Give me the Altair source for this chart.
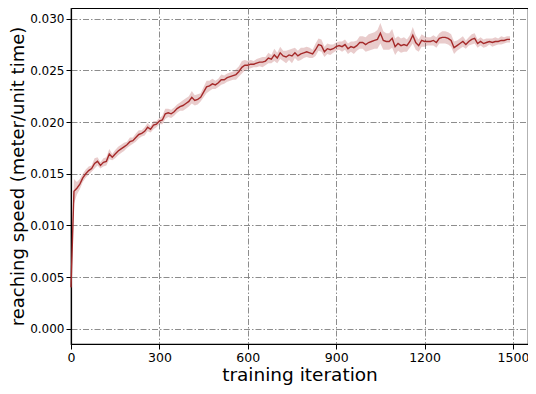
import altair as alt
import pandas as pd

iterations = list(range(0, 1500, 10))

speed_mean = [
    0.0040, 0.0133, 0.0136, 0.0140, 0.0146, 0.0150, 0.0153, 0.0155, 0.0160, 0.0162,
    0.0158, 0.0161, 0.0162, 0.0169, 0.0166, 0.0169, 0.0172, 0.0174, 0.0176, 0.0178,
    0.0181, 0.0182, 0.0185, 0.0188, 0.0189, 0.0191, 0.0195, 0.0193, 0.0197, 0.0198,
    0.0201, 0.0202, 0.0208, 0.0209, 0.0208, 0.0210, 0.0213, 0.0215, 0.0216, 0.0218,
    0.0220, 0.0224, 0.0221, 0.0222, 0.0224, 0.0229, 0.0234, 0.0235, 0.0237, 0.0236,
    0.0238, 0.0241, 0.0241, 0.0243, 0.0244, 0.0245, 0.0246, 0.0249, 0.0253, 0.0255,
    0.0255, 0.0256, 0.0256, 0.0257, 0.0258, 0.0258, 0.0259, 0.0262, 0.0261, 0.0265,
    0.0262, 0.0267, 0.0264, 0.0263, 0.0265, 0.0264, 0.0267, 0.0264, 0.0266, 0.0267,
    0.0268, 0.0267, 0.0266, 0.0270, 0.0275, 0.0274, 0.0268, 0.0271, 0.0270, 0.0271,
    0.0273, 0.0274, 0.0273, 0.0275, 0.0271, 0.0273, 0.0272, 0.0274, 0.0277, 0.0277,
    0.0275, 0.0277, 0.0278, 0.0279, 0.0280, 0.0286, 0.0279, 0.0278, 0.0278, 0.0281,
    0.0273, 0.0276, 0.0274, 0.0275, 0.0274, 0.0278, 0.0284, 0.0277, 0.0274, 0.0279,
    0.0278, 0.0278, 0.0278, 0.0279, 0.0277, 0.0281, 0.0282, 0.0282, 0.0281, 0.0279,
    0.0272, 0.0274, 0.0276, 0.0278, 0.0275, 0.0278, 0.0280, 0.0281, 0.0276, 0.0278,
    0.0276, 0.0277, 0.0278, 0.0277, 0.0278, 0.0278, 0.0279, 0.0279, 0.0280, 0.0280,
]

speed_spread = [
    0.0010, 0.0012, 0.0006, 0.0005, 0.0004, 0.0004, 0.0004, 0.0003, 0.0005, 0.0004,
    0.0003, 0.0004, 0.0004, 0.0005, 0.0003, 0.0004, 0.0004, 0.0004, 0.0004, 0.0003,
    0.0004, 0.0003, 0.0004, 0.0004, 0.0003, 0.0004, 0.0004, 0.0003, 0.0004, 0.0003,
    0.0003, 0.0004, 0.0005, 0.0004, 0.0004, 0.0004, 0.0004, 0.0004, 0.0005, 0.0005,
    0.0005, 0.0006, 0.0005, 0.0005, 0.0004, 0.0005, 0.0006, 0.0005, 0.0005, 0.0004,
    0.0004, 0.0005, 0.0004, 0.0004, 0.0004, 0.0004, 0.0005, 0.0005, 0.0006, 0.0005,
    0.0004, 0.0004, 0.0003, 0.0004, 0.0004, 0.0005, 0.0004, 0.0005, 0.0004, 0.0006,
    0.0005, 0.0006, 0.0005, 0.0006, 0.0005, 0.0007, 0.0005, 0.0005, 0.0006, 0.0005,
    0.0005, 0.0005, 0.0004, 0.0006, 0.0006, 0.0006, 0.0005, 0.0005, 0.0005, 0.0004,
    0.0004, 0.0004, 0.0005, 0.0005, 0.0005, 0.0005, 0.0006, 0.0005, 0.0006, 0.0006,
    0.0007, 0.0008, 0.0008, 0.0008, 0.0009, 0.0010, 0.0009, 0.0008, 0.0008, 0.0009,
    0.0008, 0.0007, 0.0007, 0.0007, 0.0006, 0.0006, 0.0008, 0.0007, 0.0006, 0.0006,
    0.0005, 0.0004, 0.0004, 0.0005, 0.0005, 0.0005, 0.0006, 0.0006, 0.0006, 0.0006,
    0.0006, 0.0005, 0.0005, 0.0005, 0.0004, 0.0004, 0.0005, 0.0005, 0.0004, 0.0004,
    0.0004, 0.0004, 0.0003, 0.0004, 0.0004, 0.0003, 0.0004, 0.0003, 0.0003, 0.0003,
]

x_ticks = [0, 300, 600, 900, 1200, 1500]
y_ticks = [0.000, 0.005, 0.010, 0.015, 0.020, 0.025, 0.030]

df = pd.DataFrame({"iter": iterations, "mean": speed_mean, "spread": speed_spread})
df["lo"] = df["mean"] - df["spread"]
df["hi"] = df["mean"] + df["spread"]

FONT = "DejaVu Sans"
LINE = "#a52a2a"

x_enc = alt.X(
    "iter:Q",
    scale=alt.Scale(domain=[0, 1551], nice=False, zero=False),
    axis=alt.Axis(values=x_ticks, title="training iteration", format="d",
                  labelFlush=False),
)

band = alt.Chart(df).mark_area(color=LINE, opacity=0.24).encode(
    x=x_enc,
    y=alt.Y("lo:Q"),
    y2="hi:Q",
)

line = alt.Chart(df).mark_line(color=LINE, strokeWidth=1.4).encode(
    x=x_enc,
    y=alt.Y(
        "mean:Q",
        scale=alt.Scale(domain=[-0.00148, 0.03104], nice=False, zero=False),
        axis=alt.Axis(values=y_ticks, format=".3f", labelFlush=False,
                      title="reaching speed (meter/unit time)"),
    ),
)

chart = (
    alt.layer(band, line)
    .properties(
        width=457,
        height=336,
        autosize=alt.AutoSizeParams(type="none"),
        padding={"left": 63, "top": 0, "right": 0, "bottom": 42},
    )
    .configure_view(stroke="black", strokeWidth=1.2)
    .configure_axis(
        labelFont=FONT,
        labelFontSize=12,
        labelColor="black",
        titleFont=FONT,
        titleFontSize=18,
        titleFontWeight="normal",
        titleColor="black",
        domainColor="black",
        domainWidth=1.2,
        tickColor="black",
        tickSize=5,
        tickWidth=1,
        labelPadding=2,
        grid=True,
        gridColor="#808080",
        gridDash=[6, 2, 1.5, 2],
        gridWidth=0.9,
    )
    .configure_axisX(titlePadding=2, titleFontSize=18.5, labelFontSize=12.5)
    .configure_axisY(titlePadding=2)
)

chart.save("out.html", embed_options={"renderer": "svg", "actions": False})
